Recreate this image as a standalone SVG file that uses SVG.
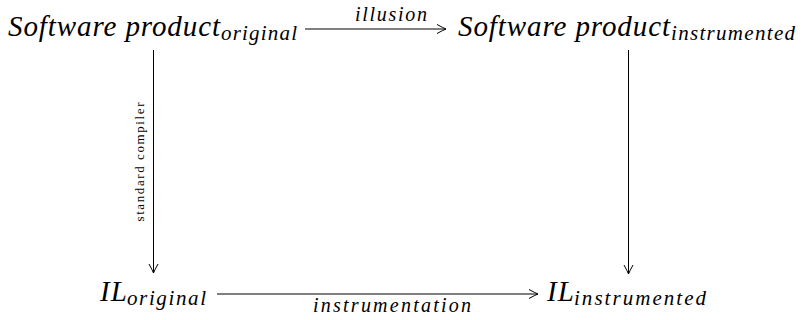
<svg xmlns="http://www.w3.org/2000/svg" width="802" height="320" viewBox="0 0 802 320">
<style>
.m{font-family:"Liberation Serif","Times New Roman",serif;font-style:italic;fill:#000}
.big{font-size:29px}
.sub{font-size:21px}
.lab{font-size:20px}
.up{font-family:"Liberation Serif","Times New Roman",serif;font-size:13px;fill:#000}
.c{fill:none;stroke:#000;stroke-width:1}
</style>
<defs>
<marker id="ah" markerUnits="userSpaceOnUse" markerWidth="14" markerHeight="12" viewBox="-12 -6 14 12" refX="0" refY="0" orient="auto">
<path d="M-9,-4.5 Q-3,-1.2 0,0 Q-3,1.2 -9,4.5" fill="none" stroke="#000" stroke-width="1"/>
</marker>
</defs>
<rect width="802" height="320" fill="#fff"/>
<g id="connectors">
<g id="e-illusion">
<line class="c" x1="305" y1="29" x2="446" y2="29" marker-end="url(#ah)"/>
<text class="m lab" x="391" y="21" text-anchor="middle" textLength="72" lengthAdjust="spacing">illusion</text>
</g>
<g id="e-compiler">
<line class="c" x1="153.5" y1="50" x2="153.5" y2="273" marker-end="url(#ah)"/>
<text class="up" transform="translate(144,162) rotate(-90)" text-anchor="middle" textLength="119" lengthAdjust="spacing">standard compiler</text>
</g>
<g id="e-right">
<line class="c" x1="628.5" y1="50" x2="628.5" y2="274" marker-end="url(#ah)"/>
</g>
<g id="e-instrumentation">
<line class="c" x1="217" y1="294" x2="538" y2="294" marker-end="url(#ah)"/>
<text class="m lab" x="392" y="312" text-anchor="middle" textLength="158" lengthAdjust="spacing">instrumentation</text>
</g>
</g>
<g id="n-sw-original">
<text class="m big" x="8" y="36" textLength="212" lengthAdjust="spacing">Software product</text>
<text class="m sub" x="221" y="40" textLength="76" lengthAdjust="spacing">original</text>
</g>
<g id="n-sw-instrumented">
<text class="m big" x="458" y="36" textLength="212" lengthAdjust="spacing">Software product</text>
<text class="m sub" x="671" y="40" textLength="124" lengthAdjust="spacing">instrumented</text>
</g>
<g id="n-il-original">
<text class="m big" x="100" y="301" textLength="27" lengthAdjust="spacing">IL</text>
<text class="m sub" x="127" y="305" textLength="79" lengthAdjust="spacing">original</text>
</g>
<g id="n-il-instrumented">
<text class="m big" x="547" y="301" textLength="27" lengthAdjust="spacing">IL</text>
<text class="m sub" x="574" y="305" textLength="132" lengthAdjust="spacing">instrumented</text>
</g>
</svg>
